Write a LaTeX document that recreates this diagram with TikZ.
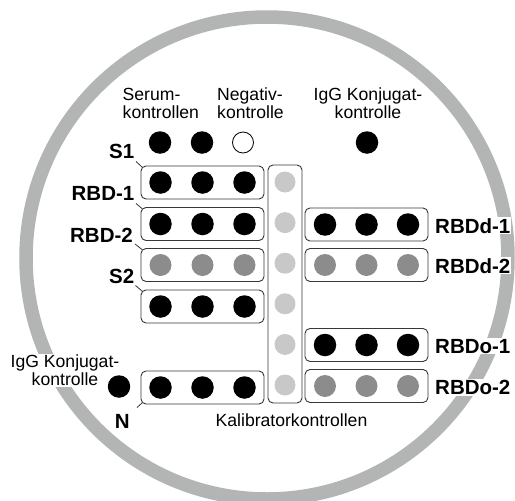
\documentclass[tikz,border=0pt]{standalone}
\usepackage{fontspec}
\setmainfont{Liberation Sans}
\usetikzlibrary{calc}
\definecolor{ringgray}{RGB}{179,180,180}
\definecolor{midgray}{RGB}{140,140,140}
\definecolor{lightdot}{RGB}{200,200,200}
\definecolor{boxline}{RGB}{55,55,55}
\tikzset{
  dotb/.style={circle, fill=black, minimum size=22.5pt, inner sep=0pt},
  dotm/.style={circle, fill=midgray, minimum size=22pt, inner sep=0pt},
  dotl/.style={circle, fill=lightdot, minimum size=21pt, inner sep=0pt},
  doto/.style={circle, draw=black, fill=white, line width=0.8pt, minimum size=21pt, inner sep=0pt},
  wellbox/.style={draw=boxline, rounded corners=5pt, line width=0.9pt, minimum width=123pt, minimum height=33pt, inner sep=0pt},
  calbox/.style={draw=boxline, rounded corners=5pt, line width=0.9pt, minimum width=34pt, minimum height=238pt, inner sep=0pt},
  lbl/.style={font=\fontsize{20.5}{22}\selectfont\bfseries, inner sep=1pt, fill=white},
  txt/.style={font=\fontsize{17.6}{18}\selectfont, inner sep=0pt},
  leader/.style={draw=boxline, line width=0.8pt}
}
\begin{document}
\begin{tikzpicture}[x=1pt,y=-1pt]
\useasboundingbox (0,0) rectangle (515,501);
\clip (0,0) rectangle (515,501);
\fill[white] (0,0) rectangle (515,501);
% ring
\draw[ringgray, line width=13.5pt] (267,258) circle (241);

% top labels
\node[txt, anchor=north west, align=left] (tser) at (122.5,88) {Serum-\\kontrollen};
\node[txt, anchor=north west, align=left] (tneg) at (217,88) {Negativ-\\kontrolle};
\node[txt, anchor=north, align=center] (tigg1) at (368,88) {IgG Konjugat-\\kontrolle};

% top dots
\node[dotb] (s1) at (160,142.5) {};
\node[dotb] (s2) at (202,142.5) {};
\node[doto] (neg) at (243,142.5) {};
\node[dotb] (igg1) at (367,142.5) {};

% left boxes
\node[wellbox] (b1) at (202.5,182.5) {};
\node[wellbox] (b2) at (202.5,224) {};
\node[wellbox] (b3) at (202.5,265) {};
\node[wellbox] (b4) at (202.5,306.5) {};
\node[wellbox] (b5) at (202.5,387.5) {};
\foreach \b/\s in {b1/dotb, b2/dotb, b3/dotm, b4/dotb, b5/dotb} {
  \node[\s] (\b a) at ($(\b.center)+(-42,0)$) {};
  \node[\s] (\b b) at ($(\b.center)+(0,0)$) {};
  \node[\s] (\b c) at ($(\b.center)+(42,0)$) {};
}

% calibrator column
\node[calbox] (cal) at (285,284) {};
\foreach \i/\y in {1/182, 2/222.6, 3/263.2, 4/303.8, 5/344.4, 6/385} {
  \node[dotl] (c\i) at (285,\y) {};
}
\node[txt, anchor=base] (tcal) at (291.5,426) {Kalibratorkontrollen};

% right boxes
\node[wellbox] (r1) at (366.5,224.5) {};
\node[wellbox] (r2) at (366.5,265) {};
\node[wellbox] (r3) at (366.5,345) {};
\node[wellbox] (r4) at (366.5,386) {};
\foreach \b/\s in {r1/dotb, r2/dotm, r3/dotb, r4/dotm} {
  \node[\s] (\b a) at ($(\b.center)+(-41.5,0)$) {};
  \node[\s] (\b b) at ($(\b.center)+(0,0)$) {};
  \node[\s] (\b c) at ($(\b.center)+(41.5,0)$) {};
}

% left IgG control
\node[txt, anchor=north, align=center, fill=white, inner sep=1pt] (tigg2) at (65,354) {IgG Konjugat-\\kontrolle};
\node[dotb] (igg2) at (119,386.5) {};

% left bold labels
\node[lbl, anchor=base east] (lS1) at (135.5,158) {S1};
\node[lbl, anchor=base east] (lR1) at (135.5,200) {RBD-1};
\node[lbl, anchor=base east] (lR2) at (134,242) {RBD-2};
\node[lbl, anchor=base east] (lS2) at (135.5,283) {S2};
\node[lbl, anchor=base east] (lN) at (131,428) {N};

% right bold labels
\node[lbl, anchor=base west] (lRd1) at (434,233) {RBDd-1};
\node[lbl, anchor=base west] (lRd2) at (434,273) {RBDd-2};
\node[lbl, anchor=base west] (lRo1) at (434,353) {RBDo-1};
\node[lbl, anchor=base west] (lRo2) at (434,394.5) {RBDo-2};

% leaders
\coordinate (e1) at (136,161.5);
\coordinate (e2) at (136,203.5);
\coordinate (e3) at (135,244);
\coordinate (e4) at (135.5,285.5);
\coordinate (e5) at (137,407.5);
\draw[leader] (e1) -- ($(b1.north west)+(1.5,1.5)$);
\draw[leader] (e2) -- ($(b2.north west)+(1.5,1.5)$);
\draw[leader] (e3) -- ($(b3.north west)+(1.5,1.5)$);
\draw[leader] (e4) -- ($(b4.north west)+(1.5,1.5)$);
\draw[leader] (e5) -- ($(b5.south west)+(1.5,-1.5)$);
\end{tikzpicture}
\end{document}
